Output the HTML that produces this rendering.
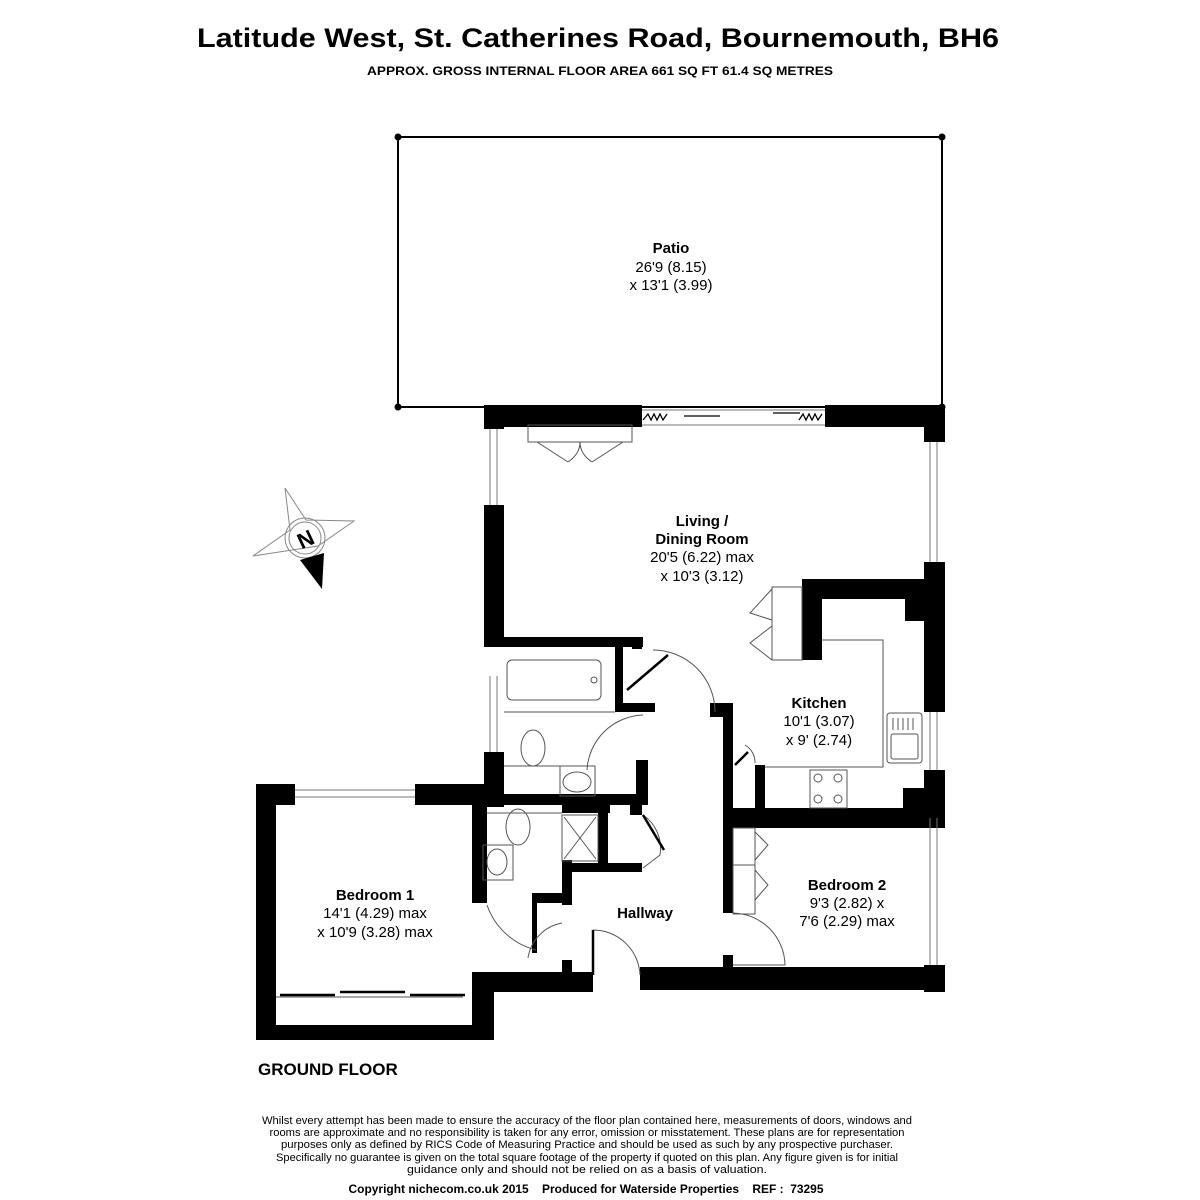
<!DOCTYPE html>
<html><head><meta charset="utf-8"><style>
html,body{margin:0;padding:0;background:#fff}
svg{display:block}
text{font-family:"Liberation Sans",sans-serif;fill:#000}
</style></head><body>
<svg width="1200" height="1200" viewBox="0 0 1200 1200" xmlns="http://www.w3.org/2000/svg">
<rect width="1200" height="1200" fill="#fff"/>
<text x="598" y="47" font-size="27" font-weight="bold" text-anchor="middle" textLength="802" lengthAdjust="spacingAndGlyphs">Latitude West, St. Catherines Road, Bournemouth, BH6</text>
<text x="600" y="75" font-size="12" font-weight="bold" text-anchor="middle" textLength="466" lengthAdjust="spacingAndGlyphs">APPROX. GROSS INTERNAL FLOOR AREA 661 SQ FT 61.4 SQ METRES</text>

<rect x="398" y="137" width="544" height="270" fill="none" stroke="#000" stroke-width="2"/>
<circle cx="398" cy="137" r="3.5"/><circle cx="942" cy="137" r="3.5"/><circle cx="398" cy="407" r="3.5"/><circle cx="942" cy="407" r="3.5"/>
<text x="671" y="253" font-size="15" font-weight="bold" text-anchor="middle">Patio</text>
<text x="671" y="272" font-size="15" text-anchor="middle">26'9 (8.15)</text>
<text x="671" y="290" font-size="15" text-anchor="middle">x 13'1 (3.99)</text>

<g stroke="#888" stroke-width="1" fill="none">
<polygon points="285,488 306,520 354,521 318,546 253,556 290,530"/>
<circle cx="305" cy="538" r="20"/><circle cx="305" cy="538" r="16"/>
</g>
<polygon points="300,560 324,553 322,589" fill="#000"/>
<text x="305" y="547" font-size="22" font-weight="bold" text-anchor="middle" transform="rotate(-25 305 538)">N</text>

<g fill="#000">
<rect x="484" y="405" width="158" height="22"/>
<rect x="825" y="405" width="120" height="22"/>
<rect x="484" y="405" width="20" height="24"/>
<rect x="484" y="505" width="20" height="135"/>
<rect x="484" y="752" width="20" height="55"/>
<rect x="924" y="405" width="21" height="37"/>
<rect x="924" y="562" width="21" height="150"/>
<rect x="924" y="770" width="21" height="48"/>
<rect x="924" y="965" width="21" height="27"/>
<rect x="802" y="579" width="123" height="20"/>
<rect x="802" y="579" width="20" height="81"/>
<rect x="905" y="599" width="20" height="22"/>
<rect x="484" y="637" width="159" height="10"/>
<rect x="615" y="640" width="8" height="72"/>
<rect x="615" y="703" width="40" height="9"/>
<rect x="632" y="637" width="10" height="12"/>
<rect x="710" y="703" width="22" height="14"/>
<rect x="723" y="703" width="10" height="210"/>
<rect x="723" y="808" width="222" height="20"/>
<rect x="903" y="788" width="42" height="30"/>
<rect x="755" y="765" width="10" height="45"/>
<rect x="636" y="760" width="12" height="45"/>
<rect x="484" y="794" width="158" height="11"/>
<rect x="562" y="805" width="48" height="8"/>
<rect x="598" y="805" width="10" height="62"/>
<rect x="562" y="863" width="80" height="9"/>
<rect x="562" y="860" width="10" height="45"/>
<rect x="535" y="893" width="37" height="10"/>
<rect x="532" y="893" width="5" height="60"/>
<rect x="630" y="805" width="12" height="10"/>
<rect x="256" y="784" width="39" height="21"/>
<rect x="415" y="784" width="85" height="21"/>
<rect x="256" y="784" width="20" height="256"/>
<rect x="256" y="1025" width="238" height="15"/>
<rect x="472" y="972" width="22" height="68"/>
<rect x="472" y="805" width="15" height="98"/>
<rect x="472" y="972" width="121" height="20"/>
<rect x="562" y="960" width="10" height="15"/>
<rect x="640" y="967" width="305" height="23"/>
<rect x="723" y="955" width="10" height="15"/>
</g>

<g stroke="#777" stroke-width="1" fill="none">
<line x1="490" y1="429" x2="490" y2="505"/><line x1="497" y1="429" x2="497" y2="505"/>
<line x1="490" y1="676" x2="490" y2="752"/><line x1="497" y1="676" x2="497" y2="752"/>
<line x1="930" y1="442" x2="930" y2="562"/><line x1="937" y1="442" x2="937" y2="562"/>
<line x1="930" y1="712" x2="930" y2="770"/><line x1="937" y1="712" x2="937" y2="770"/>
<line x1="930" y1="818" x2="930" y2="965"/><line x1="937" y1="818" x2="937" y2="965"/>
<line x1="295" y1="790" x2="415" y2="790"/><line x1="295" y1="797" x2="415" y2="797"/>
<line x1="642" y1="410" x2="825" y2="410"/>
<line x1="642" y1="425" x2="825" y2="425"/>
</g>
<g stroke="#000" stroke-width="1.3" fill="none">
<polyline points="643,420 648,414 651,420 654,414 657,420 660,414 663,420 667,414"/>
<polyline points="799,420 803,414 806,420 809,414 812,420 815,414 818,420 822,414"/>
<line x1="684" y1="416" x2="720" y2="416"/><line x1="773" y1="413" x2="800" y2="413"/>
</g>
<g stroke="#555" stroke-width="1" fill="none">
<rect x="528" y="425" width="104" height="17"/>
<polyline points="537,442 568,462"/><polyline points="623,442 592,462"/>
<path d="M568,462 q12,-8 12,-20 M592,462 q-12,-8 -12,-20"/>
<rect x="772" y="587" width="30" height="73"/>
<polyline points="772,589 750,613 772,620"/><polyline points="772,626 750,643 772,660"/>
<polyline points="822,640 883,640 883,767 765,767"/>
<rect x="887" y="713" width="35" height="50" rx="3"/>
<line x1="893" y1="718" x2="893" y2="730"/><line x1="898" y1="718" x2="898" y2="730"/><line x1="903" y1="718" x2="903" y2="730"/><line x1="908" y1="718" x2="908" y2="730"/><line x1="913" y1="718" x2="913" y2="730"/>
<rect x="891" y="734" width="27" height="25" rx="2"/>
<rect x="810" y="770" width="37" height="38"/>
<circle cx="818" cy="778" r="4"/><circle cx="838" cy="778" r="4"/><circle cx="818" cy="799" r="4"/><circle cx="838" cy="799" r="4"/>
<rect x="507" y="660" width="94" height="40" rx="5"/><circle cx="594" cy="680" r="3"/>
<line x1="504" y1="712" x2="615" y2="712"/>
<ellipse cx="533" cy="748" rx="12" ry="18"/>
<line x1="504" y1="766" x2="560" y2="766"/>
<rect x="560" y="766" width="35" height="30"/><ellipse cx="577" cy="782" rx="14" ry="10"/>
<line x1="487" y1="813" x2="562" y2="813"/>
<ellipse cx="518" cy="827" rx="12" ry="18"/>
<rect x="483" y="845" width="30" height="35"/><ellipse cx="497" cy="862" rx="10" ry="13"/>
<rect x="562" y="815" width="36" height="46"/>
<line x1="564" y1="817" x2="596" y2="859"/><line x1="596" y1="817" x2="564" y2="859"/>
<rect x="733" y="828" width="22" height="86"/><line x1="733" y1="865" x2="755" y2="865"/>
<polyline points="755,832 768,845 755,860"/><polyline points="755,870 768,885 755,900"/>
<line x1="276" y1="997" x2="463" y2="997"/>
<path d="M 653,650 A 62 62 0 0 1 715,712"/>
<path d="M 643,715 A 58 58 0 0 0 587,770"/>
<path d="M 643,815 A 40 40 0 0 1 660,855 L 643,868"/>
<path d="M 487,905 A 70 70 0 0 0 536,950"/>
<path d="M 562,923 A 42 42 0 0 0 528,958"/>
<path d="M 593,930 A 47 47 0 0 1 640,975"/>
<path d="M 733,913 A 53 53 0 0 1 785,965 L 733,965"/>
<path d="M 755,763 A 20 20 0 0 0 745,745"/>
</g>
<g stroke="#000" stroke-width="2.5" fill="none">
<line x1="627" y1="690" x2="668" y2="655"/>
<line x1="643" y1="815" x2="664" y2="850"/>
<line x1="735" y1="765" x2="748" y2="752"/>
<line x1="280" y1="995" x2="335" y2="995"/><line x1="340" y1="992" x2="405" y2="992"/><line x1="410" y1="995" x2="465" y2="995"/>
<line x1="593" y1="930" x2="593" y2="975"/>
</g>

<g text-anchor="middle" font-size="15">
<text x="702" y="526" font-weight="bold">Living /</text>
<text x="702" y="544" font-weight="bold">Dining Room</text>
<text x="702" y="562">20'5 (6.22) max</text>
<text x="702" y="581">x 10'3 (3.12)</text>
<text x="819" y="708" font-weight="bold">Kitchen</text>
<text x="819" y="726">10'1 (3.07)</text>
<text x="819" y="745">x 9' (2.74)</text>
<text x="847" y="890" font-weight="bold">Bedroom 2</text>
<text x="847" y="908">9'3 (2.82) x</text>
<text x="847" y="926">7'6 (2.29) max</text>
<text x="375" y="900" font-weight="bold">Bedroom 1</text>
<text x="375" y="918">14'1 (4.29) max</text>
<text x="375" y="937">x 10'9 (3.28) max</text>
<text x="645" y="918" font-weight="bold">Hallway</text>
</g>
<text x="258" y="1075" font-size="17" font-weight="bold">GROUND FLOOR</text>

<g text-anchor="middle" font-size="11">
<text x="587" y="1124" textLength="650" lengthAdjust="spacingAndGlyphs">Whilst every attempt has been made to ensure the accuracy of the floor plan contained here, measurements of doors, windows and</text>
<text x="587" y="1136" textLength="635" lengthAdjust="spacingAndGlyphs">rooms are approximate and no responsibility is taken for any error, omission or misstatement. These plans are for representation</text>
<text x="587" y="1148" textLength="612" lengthAdjust="spacingAndGlyphs">purposes only as defined by RICS Code of Measuring Practice and should be used as such by any prospective purchaser.</text>
<text x="587" y="1161" textLength="622" lengthAdjust="spacingAndGlyphs">Specifically no guarantee is given on the total square footage of the property if quoted on this plan. Any figure given is for initial</text>
<text x="587" y="1173" textLength="360" lengthAdjust="spacingAndGlyphs">guidance only and should not be relied on as a basis of valuation.</text>
<text x="586" y="1193" font-weight="bold" font-size="12" textLength="475" lengthAdjust="spacingAndGlyphs" xml:space="preserve">Copyright nichecom.co.uk 2015    Produced for Waterside Properties    REF :  73295</text>
</g>
</svg>
</body></html>
